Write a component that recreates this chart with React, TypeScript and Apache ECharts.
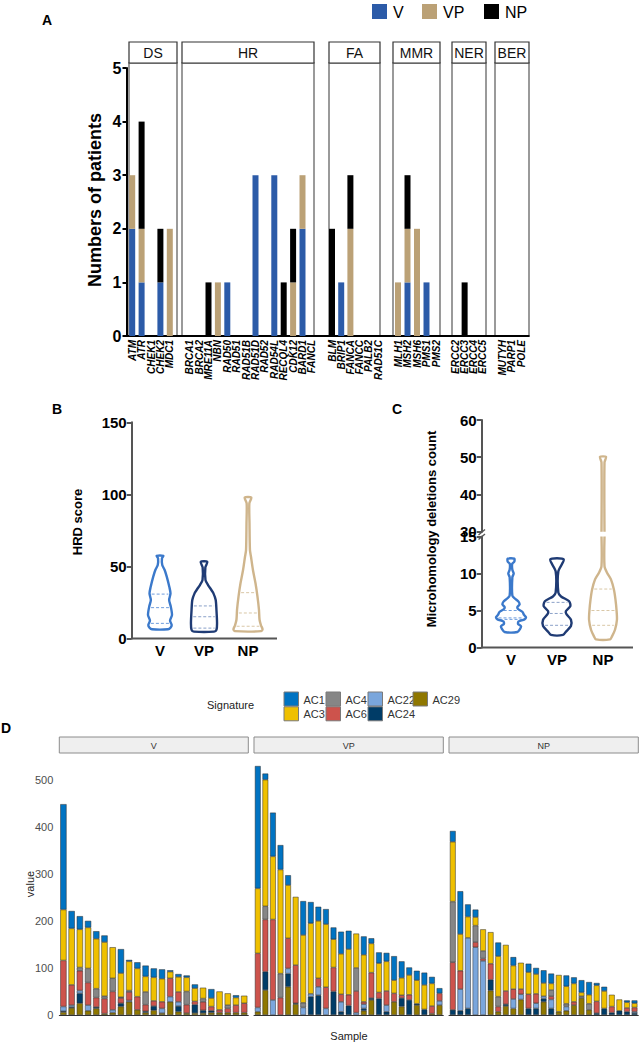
import React, { useEffect, useRef } from "react";
import * as echarts from "echarts";

const FONT = "'Liberation Sans', Arial, Helvetica, sans-serif";

// ---------------- Panel A data ----------------
const aGroups = ["DS", "HR", "FA", "MMR", "NER", "BER"];
const dsGenes = ["ATM", "ATR", "CHEK1", "CHEK2", "MDC1"];
const dsV = [2, 1, 0, 1, 0];
const dsVP = [1, 1, 0, 0, 2];
const dsNP = [0, 2, 0, 1, 0];
const hrGenes = ["BRCA1", "BRCA2", "MRE11A", "NBN", "RAD50", "RAD51", "RAD51B", "RAD51D", "RAD52", "RAD54L", "RECQL4", "CDK12", "BARD1", "FANCL"];
const hrV = [0, 0, 0, 0, 1, 0, 0, 3, 0, 3, 0, 0, 2, 0];
const hrVP = [0, 0, 0, 1, 0, 0, 0, 0, 0, 0, 0, 1, 1, 0];
const hrNP = [0, 0, 1, 0, 0, 0, 0, 0, 0, 0, 1, 1, 0, 0];
const faGenes = ["BLM", "BRIP1", "FANCA", "FANCC", "PALB2", "RAD51C"];
const faV = [0, 1, 0, 0, 0, 0];
const faVP = [0, 0, 2, 0, 0, 0];
const faNP = [2, 0, 1, 0, 0, 0];
const mmrGenes = ["MLH1", "MSH2", "MSH6", "PMS1", "PMS2"];
const mmrV = [0, 1, 0, 1, 0];
const mmrVP = [1, 1, 2, 0, 0];
const mmrNP = [0, 1, 0, 0, 0];
const nerGenes = ["ERCC2", "ERCC3", "ERCC4", "ERCC5"];
const nerV = [0, 0, 0, 0];
const nerVP = [0, 0, 0, 0];
const nerNP = [0, 1, 0, 0];
const berGenes = ["MUTYH", "PARP1", "POLE"];
const berV = [0, 0, 0];
const berVP = [0, 0, 0];
const berNP = [0, 0, 0];
const aSeriesNames = ["V", "VP", "NP"];

// ---------------- Panel B / C data (violin outlines: [value, relative half-width]) ----------------
const groupsBC = ["V", "VP", "NP"];
const hrdV = [[6.4, 0.53], [7.5, 0.7], [9.4, 0.78], [12.4, 0.67], [16.3, 0.8], [22.1, 0.72], [26.7, 0.61], [31.3, 0.7], [35.9, 0.62], [42.9, 0.45], [47.5, 0.31], [51, 0.15], [55.6, 0.13], [57.4, 0.22]];
const hrdVP = [[4.8, 0.67], [6, 0.83], [10.5, 0.87], [19.8, 0.83], [26.7, 0.78], [31.3, 0.63], [34, 0.47], [37.1, 0.27], [40.5, 0.1], [49.3, 0.09], [53.2, 0.22]];
const hrdNP = [[5.1, 0.87], [6.5, 0.97], [9, 0.87], [13, 0.77], [20, 0.73], [29.2, 0.63], [38.3, 0.5], [47.5, 0.33], [56.7, 0.2], [61.3, 0.13], [80, 0.1], [93.7, 0.09], [97.8, 0.22]];
const hrdQuartV = [10.5, 21.4, 30.8];
const hrdQuartVP = [7.2, 15.1, 22.6];
const hrdQuartNP = [8.5, 17.7, 31.8];
const hrdTicks = [0, 50, 100, 150];

const mhV = [[2.1, 0.43], [2.5, 0.6], [2.85, 0.67], [3.2, 0.47], [3.5, 0.5], [3.8, 0.9], [4.1, 1], [4.4, 0.87], [4.8, 0.77], [5.2, 0.47], [5.5, 0.43], [5.8, 0.57], [6.2, 0.5], [6.6, 0.27], [7, 0.09], [9.5, 0.09], [10, 0.18], [10.5, 0.09], [11.3, 0.08], [11.6, 0.22], [12, 0.22]];
const mhVP = [[1.7, 0.4], [2.15, 0.6], [2.9, 0.93], [3.75, 0.93], [4.5, 0.63], [4.9, 0.59], [5.6, 0.89], [6.25, 0.81], [6.9, 0.27], [7.4, 0.09], [10.3, 0.09], [11.9, 0.45]];
const mhNP = [[1.1, 0.47], [1.5, 0.6], [2.4, 0.8], [3.75, 0.93], [5.1, 0.9], [6.5, 0.83], [7.8, 0.73], [9.2, 0.53], [10.1, 0.27], [11, 0.1], [48.6, 0.1], [50.1, 0.2]];
const mhQuartV = [3.8, 4.0, 5.0];
const mhQuartVP = [3.0, 4.6, 6.1];
const mhQuartNP = [3.0, 5.0, 7.9];

// ---------------- Panel D data: per sample [AC1, AC3, AC4, AC6, AC22, AC24, AC29] ----------------
const signatures = ["AC1", "AC3", "AC4", "AC6", "AC22", "AC24", "AC29"];
const facetsD = ["V", "VP", "NP"];
const samplesV = [
  [224, 108, 0, 98, 10, 2, 6], [37, 120, 0, 43, 4, 2, 15], [28, 81, 7, 42, 6, 21, 25], [14, 87, 30, 48, 12, 0, 9],
  [16, 106, 19, 20, 0, 3, 14], [14, 115, 5, 32, 0, 0, 3], [0, 66, 28, 39, 6, 0, 5], [51, 51, 2, 11, 0, 7, 18],
  [3, 62, 3, 18, 3, 0, 28], [13, 60, 0, 28, 0, 0, 11], [23, 33, 27, 14, 0, 3, 5], [19, 50, 0, 11, 0, 9, 10],
  [20, 49, 0, 14, 10, 0, 4], [3, 14, 0, 39, 11, 0, 28], [6, 32, 0, 21, 9, 12, 7], [4, 30, 28, 18, 0, 0, 4],
  [8, 28, 0, 7, 0, 18, 4], [0, 23, 7, 18, 0, 6, 4], [19, 18, 0, 9, 0, 4, 5], [0, 39, 0, 6, 0, 0, 5],
  [0, 25, 7, 9, 0, 0, 5], [5, 16, 0, 16, 0, 0, 5], [0, 16, 0, 20, 0, 0, 5],
];
const samplesVP = [
  [260, 138, 0, 115, 9, 0, 7], [13, 269, 28, 111, 0, 39, 53], [93, 134, 0, 171, 32, 0, 0], [52, 221, 51, 37, 0, 0, 0],
  [21, 113, 0, 64, 11, 28, 60], [0, 145, 0, 81, 0, 2, 23], [72, 144, 10, 0, 16, 0, 0], [45, 150, 0, 0, 6, 39, 0],
  [30, 122, 0, 18, 18, 42, 0], [32, 134, 0, 45, 14, 0, 0], [25, 60, 0, 51, 0, 50, 0], [47, 86, 0, 16, 21, 7, 0],
  [39, 97, 0, 23, 0, 20, 0], [0, 73, 49, 46, 5, 0, 0], [39, 100, 0, 5, 9, 5, 9], [11, 62, 0, 54, 0, 4, 32],
  [23, 62, 0, 13, 0, 35, 0], [18, 63, 0, 30, 14, 7, 0], [51, 28, 0, 18, 0, 0, 28], [35, 37, 0, 6, 0, 18, 18],
  [16, 42, 0, 11, 0, 32, 0], [20, 50, 0, 0, 0, 3, 21], [26, 52, 0, 0, 0, 12, 0], [14, 48, 0, 16, 0, 0, 3],
  [11, 0, 0, 16, 9, 0, 21],
];
const samplesNP = [
  [23, 127, 129, 101, 0, 11, 0], [91, 78, 0, 39, 46, 9, 0], [26, 45, 0, 0, 150, 14, 0], [16, 18, 35, 11, 144, 0, 0],
  [0, 46, 16, 5, 115, 0, 0], [0, 67, 0, 34, 0, 23, 52], [29, 86, 21, 11, 0, 0, 7], [0, 98, 0, 28, 0, 4, 19],
  [18, 50, 0, 21, 20, 0, 14], [0, 56, 0, 11, 11, 0, 33], [18, 47, 0, 30, 0, 14, 0], [13, 42, 0, 20, 11, 14, 0],
  [27, 28, 0, 0, 5, 7, 28], [21, 14, 13, 7, 19, 14, 0], [0, 78, 0, 0, 0, 0, 7], [23, 37, 6, 0, 9, 0, 9],
  [13, 39, 0, 7, 0, 0, 21], [26, 8, 4, 0, 0, 0, 36], [27, 19, 13, 0, 0, 0, 11], [5, 34, 0, 25, 0, 4, 0],
  [9, 37, 0, 0, 0, 14, 0], [0, 25, 0, 13, 0, 5, 0], [0, 24, 0, 0, 0, 9, 0], [4, 12, 0, 8, 0, 7, 0],
  [6, 9, 0, 9, 3, 4, 0],
];
const dTicks = [0, 100, 200, 300, 400, 500];

// ---------------- styles / layout ----------------
const A_COLORS: Record<string, string> = { V: "#2c5ba8", VP: "#bba176", NP: "#000000" };
const VIOLIN_COLORS = ["#3b79cb", "#1f3b74", "#cfb58c"];
const QUART_COLORS = ["#6f9ddd", "#8aa0c8", "#d9c7a6"];
const SIG_COLORS = ["#0073C2", "#EFC000", "#868686", "#CD534C", "#7AA6DC", "#003C67", "#8F7700"];
const A_BOX = [[129, 177], [182, 314], [329, 380], [393, 440], [452, 486], [495, 529]];
const A_GRID = [[127.5, 47], [185, 131.6], [327.4, 55.2], [393.25, 47.5], [451.5, 35], [497.5, 28.2]];
const D_BOX = [[59.3, 248.3], [254, 443.3], [449, 638.3]];
const HALF = 15;

function clipProfile(p: number[][], lo: number, hi: number) {
  const out: number[][] = [];
  for (let i = 0; i < p.length; i++) {
    const [v, d] = p[i];
    if (i > 0) {
      const [v0, d0] = p[i - 1];
      if (v0 < lo && v > lo) out.push([lo, d0 + ((d - d0) * (lo - v0)) / (v - v0)]);
      if (v0 < hi && v > hi) out.push([hi, d0 + ((d - d0) * (hi - v0)) / (v - v0)]);
    }
    if (v >= lo && v <= hi) out.push([v, d]);
  }
  return out;
}
function densityAt(p: number[][], q: number) {
  for (let i = 1; i < p.length; i++) {
    const [v0, d0] = p[i - 1];
    const [v1, d1] = p[i];
    if (q >= v0 && q <= v1) return d0 + ((d1 - d0) * (q - v0)) / (v1 - v0);
  }
  return 0;
}

function violinSeries(axisIdx: number, profiles: number[][][], quarts: number[][] | null, lo: number, hi: number) {
  return {
    type: "custom",
    xAxisIndex: axisIdx,
    yAxisIndex: axisIdx,
    silent: true,
    z: 5,
    data: profiles.map((_, i) => [i]),
    encode: { x: 0 },
    renderItem: (params: any, api: any) => {
      const i = params.dataIndex;
      const prof = profiles[i];
      const cp = clipProfile(prof, lo, hi);
      const cx = api.coord([i, lo])[0];
      const Y = (v: number) => api.coord([i, v])[1];
      const R = cp.map(([v, d]) => [cx + d * HALF, Y(v)]);
      const L = cp.map(([v, d]) => [cx - d * HALF, Y(v)]).reverse();
      const hasBottom = prof[0][0] >= lo;
      const hasTop = prof[prof.length - 1][0] <= hi;
      const style = { stroke: VIOLIN_COLORS[i], lineWidth: 2.4, fill: "none", lineJoin: "round" };
      const children: any[] = [];
      if (quarts) {
        quarts[i].forEach((q) => {
          if (q < lo || q > hi) return;
          const h = densityAt(prof, q) * HALF - 2;
          children.push({
            type: "line",
            shape: { x1: cx - h, y1: Y(q), x2: cx + h, y2: Y(q) },
            style: { stroke: QUART_COLORS[i], lineWidth: 1, lineDash: [3, 2] },
          });
        });
      }
      if (hasBottom && hasTop) children.push({ type: "polygon", shape: { points: R.concat(L), smooth: 0.25 }, style });
      else if (hasBottom) children.push({ type: "polyline", shape: { points: L.concat(R), smooth: 0.25 }, style });
      else if (hasTop) children.push({ type: "polyline", shape: { points: R.concat(L), smooth: 0.25 }, style });
      else {
        children.push({ type: "polyline", shape: { points: R }, style });
        children.push({ type: "polyline", shape: { points: L }, style });
      }
      return { type: "group", children };
    },
  };
}

function txt(text: string, x: number, y: number, size: number, o: any = {}) {
  return {
    type: "text",
    x,
    y,
    rotation: o.rot || 0,
    silent: true,
    style: {
      text,
      fill: o.color || "#000",
      fontSize: size,
      fontWeight: o.bold ? "bold" : "normal",
      fontFamily: FONT,
      align: o.align || "center",
      verticalAlign: "middle",
    },
  };
}
function rect(x: number, y: number, w: number, h: number, style: any) {
  return { type: "rect", silent: true, shape: { x, y, width: w, height: h }, style };
}
function line(x1: number, y1: number, x2: number, y2: number, stroke: string, lineWidth: number) {
  return { type: "line", silent: true, shape: { x1, y1, x2, y2 }, style: { stroke, lineWidth } };
}

function buildOption() {
  const grid: any[] = [];
  const xAxis: any[] = [];
  const yAxis: any[] = [];
  const series: any[] = [];
  const graphic: any[] = [];

  // ----- Panel A -----
  const aFacets = [
    { genes: dsGenes, vals: [dsV, dsVP, dsNP] },
    { genes: hrGenes, vals: [hrV, hrVP, hrNP] },
    { genes: faGenes, vals: [faV, faVP, faNP] },
    { genes: mmrGenes, vals: [mmrV, mmrVP, mmrNP] },
    { genes: nerGenes, vals: [nerV, nerVP, nerNP] },
    { genes: berGenes, vals: [berV, berVP, berNP] },
  ];
  aFacets.forEach((f, k) => {
    const [gl, gw] = A_GRID[k];
    grid.push({ left: gl, top: 68, width: gw, height: 268 });
    xAxis.push({
      type: "category",
      gridIndex: k,
      data: f.genes,
      axisLine: { show: false },
      axisTick: { show: false },
      axisLabel: { interval: 0, rotate: 90, margin: 4, fontSize: 10, fontWeight: "bold", fontStyle: "italic", fontFamily: FONT, color: "#000" },
    });
    yAxis.push({
      type: "value",
      gridIndex: k,
      min: 0,
      max: 5,
      interval: 1,
      show: k === 0,
      offset: 1,
      splitLine: { show: false },
      axisLine: { show: true, lineStyle: { color: "#000", width: 2 } },
      axisTick: { show: true, length: 4, lineStyle: { color: "#000", width: 2 } },
      axisLabel: { fontSize: 16, fontWeight: "bold", fontFamily: FONT, color: "#000", margin: 5 },
    });
    aSeriesNames.forEach((name, j) => {
      series.push({
        type: "bar",
        name,
        xAxisIndex: k,
        yAxisIndex: k,
        stack: "a" + k,
        barWidth: 6,
        data: f.vals[j],
        itemStyle: { color: A_COLORS[name] },
      });
    });
    const [bx0, bx1] = A_BOX[k];
    graphic.push(rect(bx0, 63, bx1 - bx0, 273, { fill: "none", stroke: "#7a7a7a", lineWidth: 1.5 }));
    graphic.push(rect(bx0, 42, bx1 - bx0, 21, { fill: "#fff", stroke: "#333", lineWidth: 1.2 }));
    graphic.push(txt(aGroups[k], (bx0 + bx1) / 2, 52.5, 14, { color: "#111" }));
  });
  graphic.push(line(126, 336, 529.5, 336, "#000", 2));
  graphic.push(txt("Numbers of patients", 95, 200, 18, { bold: true, rot: Math.PI / 2 }));
  graphic.push(txt("A", 47, 20, 14, { bold: true }));
  // legend A
  const legA = [[372, 393], [422, 443], [484, 505]];
  aSeriesNames.forEach((n, j) => {
    graphic.push(rect(legA[j][0], 4, 15, 15, { fill: A_COLORS[n] }));
    graphic.push(txt(n, legA[j][1], 12, 16, { align: "left" }));
  });

  // ----- Panel B (grid 6) -----
  const axisBC = (k: number, min: number, max: number, interval: number, showX: boolean) => {
    xAxis.push({
      type: "category",
      gridIndex: k,
      data: groupsBC,
      axisLine: { show: false },
      axisTick: { show: false },
      axisLabel: { show: showX, margin: 4, fontSize: 15, fontWeight: "bold", fontFamily: FONT, color: "#000" },
    });
    yAxis.push({
      type: "value",
      gridIndex: k,
      min,
      max,
      interval,
      offset: 6.3,
      splitLine: { show: false },
      axisLine: { show: true, lineStyle: { color: "#555", width: 2 } },
      axisTick: { show: true, length: 5, lineStyle: { color: "#555", width: 2 } },
      axisLabel: { fontSize: 15, fontWeight: "bold", fontFamily: FONT, color: "#000", margin: 5 },
    });
  };
  grid.push({ left: 138, top: 422.3, width: 132, height: 216.2 });
  axisBC(6, hrdTicks[0], hrdTicks[hrdTicks.length - 1], 50, true);
  series.push(violinSeries(6, [hrdV, hrdVP, hrdNP], [hrdQuartV, hrdQuartVP, hrdQuartNP], 0, 150));
  graphic.push(line(131.7, 638.5, 277, 638.5, "#555", 2));
  graphic.push(txt("HRD score", 77, 522, 13, { bold: true, rot: Math.PI / 2 }));
  graphic.push(txt("B", 57, 409, 14, { bold: true }));

  // ----- Panel C (grids 7 upper, 8 lower) -----
  grid.push({ left: 488, top: 420, width: 138, height: 111.7 });
  axisBC(7, 30, 60, 10, false);
  grid.push({ left: 488, top: 536.5, width: 138, height: 111 });
  axisBC(8, 0, 15, 5, true);
  series.push(violinSeries(7, [mhV, mhVP, mhNP], null, 30, 60));
  series.push(violinSeries(8, [mhV, mhVP, mhNP], [mhQuartV, mhQuartVP, mhQuartNP], 0, 15));
  graphic.push(line(481.7, 647.5, 633, 647.5, "#555", 2));
  graphic.push(line(478.5, 535, 485, 529.5, "#555", 1.4));
  graphic.push(line(478.5, 539.5, 485, 534, "#555", 1.4));
  graphic.push(txt("Microhomology deletions count", 431, 529, 13, { bold: true, rot: Math.PI / 2 }));
  graphic.push(txt("C", 397, 409, 14, { bold: true }));

  // ----- Panel D (grids 9..11) -----
  const samplesD = [samplesV, samplesVP, samplesNP];
  const stackOrder = [6, 5, 4, 3, 2, 1, 0];
  samplesD.forEach((rows, k) => {
    const g = 9 + k;
    const [x0, x1] = D_BOX[k];
    grid.push({ left: x0, top: 753.8, width: x1 - x0, height: 261.2 });
    xAxis.push({
      type: "category",
      gridIndex: g,
      data: rows.map((_, i) => facetsD[k] + "-" + (i + 1)),
      offset: 12,
      axisLine: { show: true, lineStyle: { color: "#333", width: 1 } },
      axisTick: { show: false },
      axisLabel: { show: false },
    });
    yAxis.push({
      type: "value",
      gridIndex: g,
      min: dTicks[0],
      max: 555,
      interval: 100,
      splitLine: { show: false },
      axisLine: { show: false },
      axisTick: { show: false },
      axisLabel: {
        show: k === 0,
        margin: 6,
        fontSize: 11,
        fontFamily: FONT,
        color: "#4d4d4d",
        formatter: (v: number) => (v % 100 === 0 ? String(v) : ""),
      },
    });
    stackOrder.forEach((s) => {
      series.push({
        type: "bar",
        name: signatures[s],
        xAxisIndex: g,
        yAxisIndex: g,
        stack: "d" + k,
        barCategoryGap: "24%",
        data: rows.map((r) => (r[s] ? r[s] : "-")),
        itemStyle: { color: SIG_COLORS[s], borderColor: "#2a2a2a", borderWidth: 0.5 },
      });
    });
    graphic.push(rect(x0, 737, x1 - x0, 16, { fill: "#efefef", stroke: "#8c8c8c", lineWidth: 1 }));
    graphic.push(txt(facetsD[k], (x0 + x1) / 2, 745.5, 9, { color: "#333" }));
  });
  graphic.push(txt("value", 30, 884, 11, { rot: Math.PI / 2, color: "#222" }));
  graphic.push(txt("Sample", 349, 1036, 11, { color: "#222" }));
  graphic.push(txt("D", 6, 728, 14, { bold: true }));
  // legend D
  graphic.push(txt("Signature", 207, 705, 11, { align: "left", color: "#222" }));
  const legCols = [284, 326, 368, 413];
  signatures.forEach((s, i) => {
    const col = Math.floor(i / 2);
    const row = i % 2;
    const x = legCols[col];
    const y = 692 + row * 14.8;
    graphic.push(rect(x, y, 14.5, 14, { fill: SIG_COLORS[i], stroke: "#7a7a7a", lineWidth: 1 }));
    graphic.push(txt(s, x + 19.5, y + 7.5, 11, { align: "left", color: "#333" }));
  });

  return {
    animation: false,
    backgroundColor: "#ffffff",
    textStyle: { fontFamily: FONT },
    grid,
    xAxis,
    yAxis,
    series,
    graphic,
  };
}

export default function App() {
  const ref = useRef<HTMLDivElement>(null);
  useEffect(() => {
    const chart = echarts.init(ref.current as HTMLDivElement, null, { renderer: "svg", width: 639, height: 1042 });
    chart.setOption(buildOption() as any);
    return () => chart.dispose();
  }, []);
  return <div ref={ref} style={{ position: "absolute", left: 0, top: 0, width: 639, height: 1042, background: "#fff" }} />;
}
